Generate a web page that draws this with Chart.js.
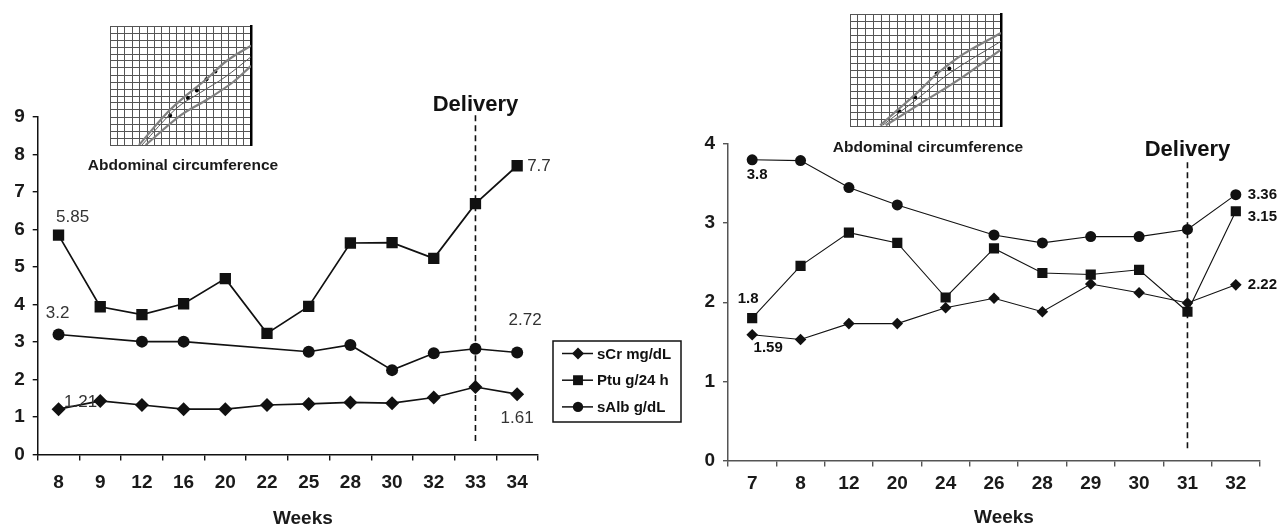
<!DOCTYPE html>
<html>
<head>
<meta charset="utf-8">
<script src="https://cdn.jsdelivr.net/npm/chart.js@4.4.1/dist/chart.umd.min.js"></script>
<style>
html,body{margin:0;padding:0;background:#fff;}
#wrap{position:relative;width:1283px;height:529px;overflow:hidden;background:#fff;}
#wrap canvas{position:absolute;}
.cap{position:absolute;font:bold 15.5px "Liberation Sans",Arial,sans-serif;color:#1a1a1a;white-space:nowrap;transform:translate(-50%,-50%);}
</style>
</head>
<body>
<div id="wrap">
  <canvas id="mainL" width="1283" height="529" style="left:0;top:0"></canvas>
  <canvas id="mainR" width="1283" height="529" style="left:0;top:0"></canvas>
  <canvas id="insetL" width="149" height="127" style="left:106px;top:22px"></canvas>
  <canvas id="insetR" width="159" height="120" style="left:846px;top:10px"></canvas>
  <div class="cap" style="left:183px;top:165px">Abdominal circumference</div>
  <div class="cap" style="left:928px;top:147px">Abdominal circumference</div>
</div>
<script>
// ---------------- data ----------------
const weeksL = ['8','9','12','16','20','22','25','28','30','32','33','34'];
const sCrL  = [1.21, 1.43, 1.32, 1.21, 1.21, 1.32, 1.35, 1.39, 1.37, 1.52, 1.80, 1.61];
const ptuL  = [5.85, 3.94, 3.73, 4.02, 4.69, 3.23, 3.95, 5.64, 5.65, 5.23, 6.69, 7.7];
const sAlbL = [3.2, null, 3.01, 3.01, null, null, 2.74, 2.92, 2.25, 2.70, 2.82, 2.72];
const deliveryWeekL = '33';

const weeksR = ['7','8','12','20','24','26','28','29','30','31','32'];
const sCrR  = [1.59, 1.53, 1.73, 1.73, 1.93, 2.05, 1.88, 2.23, 2.12, 1.99, 2.22];
const ptuR  = [1.8, 2.46, 2.88, 2.75, 2.06, 2.68, 2.37, 2.35, 2.41, 1.88, 3.15];
const sAlbR = [3.8, 3.79, 3.45, 3.23, null, 2.85, 2.75, 2.83, 2.83, 2.92, 3.36];
const deliveryWeekR = '31';

const yTicksL = [0, 9];
const yTicksR = [0, 4];

// inset growth-chart sketches (grid units)
const insetLUpper = [{x:3.9,y:0},{x:7.8,y:4.7},{x:10.4,y:7.2},{x:13.1,y:9.5},{x:15.7,y:12.0},{x:19,y:14.2}];
const insetLMiddle = [{x:4.3,y:0},{x:8.9,y:5.2},{x:12.2,y:7.5},{x:15.5,y:9.7},{x:19,y:12.6}];
const insetLLower = [{x:4.8,y:0},{x:9.6,y:4.3},{x:13.1,y:6.5},{x:16.6,y:9.0},{x:19,y:11.3}];
const insetLDots = [{x:8.1,y:4.2},{x:10.5,y:6.7},{x:11.7,y:7.8},{x:13.0,y:9.4},{x:14.2,y:10.5}];

const insetRUpper = [{x:3.8,y:0.1},{x:6.1,y:2.4},{x:8.5,y:4.8},{x:11.0,y:7.5},{x:14.3,y:10.3},{x:19,y:13.3}];
const insetRMiddle = [{x:4.1,y:0.1},{x:8.5,y:3.9},{x:12.6,y:7.6},{x:19,y:12.1}];
const insetRLower = [{x:4.5,y:0.1},{x:9.0,y:3.3},{x:13.4,y:6.4},{x:19,y:10.9}];
const insetRDots = [{x:6.2,y:2.1},{x:8.2,y:4.1},{x:10.9,y:7.5},{x:12.5,y:8.2}];

// ---------------- helpers ----------------
const FAM = '"Liberation Sans", Arial, Helvetica, sans-serif';

function drawMarker(ctx, style, r, x, y) {
  if (Chart.helpers && Chart.helpers.drawPoint) {
    Chart.helpers.drawPoint(ctx, {pointStyle: style, radius: r, rotation: 0, borderWidth: 0}, x, y);
    return;
  }
  ctx.beginPath();
  if (style === 'circle') ctx.arc(x, y, r, 0, Math.PI * 2);
  else if (style === 'rect') { const s = r * Math.SQRT1_2; ctx.rect(x - s, y - s, 2 * s, 2 * s); }
  else { ctx.moveTo(x - r, y); ctx.lineTo(x, y - r); ctx.lineTo(x + r, y); ctx.lineTo(x, y + r); ctx.closePath(); }
  ctx.fill();
}

const deco = {
  id: 'deco',
  beforeDatasetsDraw(chart, args, o) {
    const {ctx, scales: {x, y}} = chart;
    const dx = x.getPixelForValue(chart.data.labels.indexOf(o.deliveryWeek));
    ctx.save();
    ctx.setLineDash(o.dash);
    ctx.lineWidth = o.lineW;
    ctx.strokeStyle = '#111';
    ctx.beginPath();
    ctx.moveTo(dx, y.getPixelForValue(o.lineTop));
    ctx.lineTo(dx, y.getPixelForValue(o.lineBottom));
    ctx.stroke();
    ctx.restore();
  },
  afterDatasetsDraw(chart, args, o) {
    const {ctx, chartArea, scales: {x, y}} = chart;
    const dx = x.getPixelForValue(chart.data.labels.indexOf(o.deliveryWeek));
    ctx.save();
    ctx.fillStyle = '#111';
    ctx.textAlign = 'center';
    ctx.textBaseline = 'middle';
    ctx.font = 'bold 22px ' + FAM;
    ctx.fillText('Delivery', dx, y.getPixelForValue(o.lineTop) + o.textDy);

    // value labels
    ctx.font = o.labelFont;
    ctx.fillStyle = o.labelColor;
    o.labels.forEach(l => {
      const v = chart.data.datasets[l.ds].data[l.i];
      ctx.textAlign = l.align || 'center';
      ctx.fillText(String(v), x.getPixelForValue(l.i) + l.dx, y.getPixelForValue(v) + l.dy);
    });

    // axis title
    ctx.fillStyle = '#1a1a1a';
    ctx.textAlign = 'center';
    ctx.font = 'bold 19px ' + FAM;
    ctx.fillText(o.title, (chartArea.left + chartArea.right) / 2 + o.titleDx, o.titleY);

    // legend
    if (o.legend) {
      const L = o.legend;
      ctx.strokeStyle = '#111';
      ctx.lineWidth = 1.5;
      ctx.strokeRect(L.x, L.y, L.w, L.h);
      ctx.font = 'bold 15px ' + FAM;
      ctx.textAlign = 'left';
      chart.data.datasets.forEach((ds, i) => {
        const yy = L.y + L.first + i * L.step;
        ctx.strokeStyle = '#111';
        ctx.lineWidth = 1.5;
        ctx.beginPath();
        ctx.moveTo(L.x + 9, yy);
        ctx.lineTo(L.x + 40, yy);
        ctx.stroke();
        ctx.fillStyle = '#111';
        drawMarker(ctx, ds.pointStyle, L.r[i], L.x + 25, yy);
        ctx.fillStyle = '#111';
        ctx.fillText(ds.label, L.x + 44, yy + 1);
      });
    }
    ctx.restore();
  }
};

function mainChart(id, labels, series, st) {
  const mk = (label, data, style, r) => ({
    label, data, pointStyle: style, pointRadius: r, pointHoverRadius: r,
    borderColor: '#111', backgroundColor: '#111', pointBackgroundColor: '#111',
    pointBorderWidth: 0, borderWidth: st.lineW, spanGaps: true, tension: 0, fill: false
  });
  return new Chart(document.getElementById(id), {
    type: 'line',
    data: {
      labels,
      datasets: [
        mk('sCr mg/dL', series[0], 'rectRot', st.r[0]),
        mk('Ptu g/24 h', series[1], 'rect', st.r[1]),
        mk('sAlb g/dL', series[2], 'circle', st.r[2])
      ]
    },
    options: {
      responsive: false, animation: false, events: [],
      layout: {padding: st.padding},
      plugins: {legend: {display: false}, tooltip: {enabled: false}, deco: st.deco},
      scales: {
        x: {
          type: 'category', offset: true,
          grid: {display: true, drawOnChartArea: false, drawTicks: true, tickLength: 6, offset: true, color: st.axisColor, lineWidth: 1.4},
          border: {display: true, color: st.axisColor, width: 1.5},
          ticks: {autoSkip: false, maxRotation: 0, padding: st.xPad, color: '#1a1a1a', font: {family: FAM, size: 19, weight: 'bold'}},
          afterFit: s => { s.height = st.xH; }
        },
        y: {
          min: st.yTicks[0], max: st.yTicks[1],
          grid: {display: true, drawOnChartArea: false, drawTicks: true, tickLength: 5, color: st.axisColor, lineWidth: 1.4},
          border: {display: true, color: st.axisColor, width: 1.5},
          ticks: {stepSize: 1, padding: 8, color: '#1a1a1a', font: {family: FAM, size: 19, weight: 'bold'}},
          afterFit: s => { s.width = st.yW; }
        }
      }
    },
    plugins: [deco]
  });
}

mainChart('mainL', weeksL, [sCrL, ptuL, sAlbL], {
  lineW: 1.7, r: [7, 8, 6], axisColor: '#111', xPad: 11, xH: 74.5, yW: 37.7,
  yTicks: yTicksL,
  padding: {left: 0, top: 117, right: 745, bottom: 0},
  deco: {
    deliveryWeek: deliveryWeekL, lineTop: 9.05, lineBottom: 0.25, dash: [6, 4], lineW: 1.6, textDy: -10,
    labelFont: '17px ' + FAM, labelColor: '#333',
    labels: [
      {ds: 1, i: 0, dx: 14, dy: -18},
      {ds: 1, i: 11, dx: 10, dy: 1, align: 'left'},
      {ds: 2, i: 0, dx: -1, dy: -21},
      {ds: 2, i: 11, dx: 8, dy: -32},
      {ds: 0, i: 0, dx: 22, dy: -7},
      {ds: 0, i: 11, dx: 0, dy: 24}
    ],
    title: 'Weeks', titleDx: 15, titleY: 519,
    legend: {x: 553, y: 341, w: 128, h: 81, first: 12.5, step: 26.7, r: [6, 7, 5.2]}
  }
});

mainChart('mainR', weeksR, [sCrR, ptuR, sAlbR], {
  lineW: 1.1, r: [5.8, 7.2, 5.5], axisColor: '#555', xPad: 6, xH: 68.5, yW: 38,
  yTicks: yTicksR,
  padding: {left: 690, top: 144, right: 23, bottom: 0},
  deco: {
    deliveryWeek: deliveryWeekR, lineTop: 3.77, lineBottom: 0.13, dash: [6, 4], lineW: 1.6, textDy: -12,
    labelFont: 'bold 15px ' + FAM, labelColor: '#111',
    labels: [
      {ds: 2, i: 0, dx: 5, dy: 15},
      {ds: 1, i: 0, dx: -4, dy: -19},
      {ds: 0, i: 0, dx: 16, dy: 13},
      {ds: 2, i: 10, dx: 12, dy: 0, align: 'left'},
      {ds: 1, i: 10, dx: 12, dy: 6, align: 'left'},
      {ds: 0, i: 10, dx: 12, dy: 0, align: 'left'}
    ],
    title: 'Weeks', titleDx: 10, titleY: 518,
    legend: null
  }
});

function insetChart(id, upper, middle, lower, dots, xmax, ymax) {
  const curve = (d, w, c) => ({data: d, showLine: true, borderColor: c, borderWidth: w, pointRadius: 0, tension: 0.35, fill: false});
  new Chart(document.getElementById(id), {
    type: 'scatter',
    data: {datasets: [
      curve(upper, 2.2, '#808080'),
      curve(middle, 1, '#555'),
      curve(lower, 2.2, '#808080'),
      {data: dots, showLine: false, pointRadius: 2, pointBackgroundColor: '#000', pointBorderWidth: 0}
    ]},
    options: {
      responsive: false, animation: false, events: [],
      layout: {padding: {left: 1, top: 1, right: 2, bottom: 1}},
      plugins: {legend: {display: false}, tooltip: {enabled: false}},
      scales: {
        x: {type: 'linear', min: 0, max: xmax, ticks: {display: false, count: xmax + 1},
            grid: {color: '#555', lineWidth: 1, drawTicks: false}, border: {display: false}},
        y: {type: 'linear', position: 'right', min: 0, max: ymax, ticks: {display: false, count: ymax + 1},
            grid: {color: '#555', lineWidth: 1, drawTicks: false}, border: {display: true, color: '#000', width: 2.5}}
      }
    }
  });
}
insetChart('insetL', insetLUpper, insetLMiddle, insetLLower, insetLDots, 19, 17);
insetChart('insetR', insetRUpper, insetRMiddle, insetRLower, insetRDots, 19, 16);
</script>
</body>
</html>
